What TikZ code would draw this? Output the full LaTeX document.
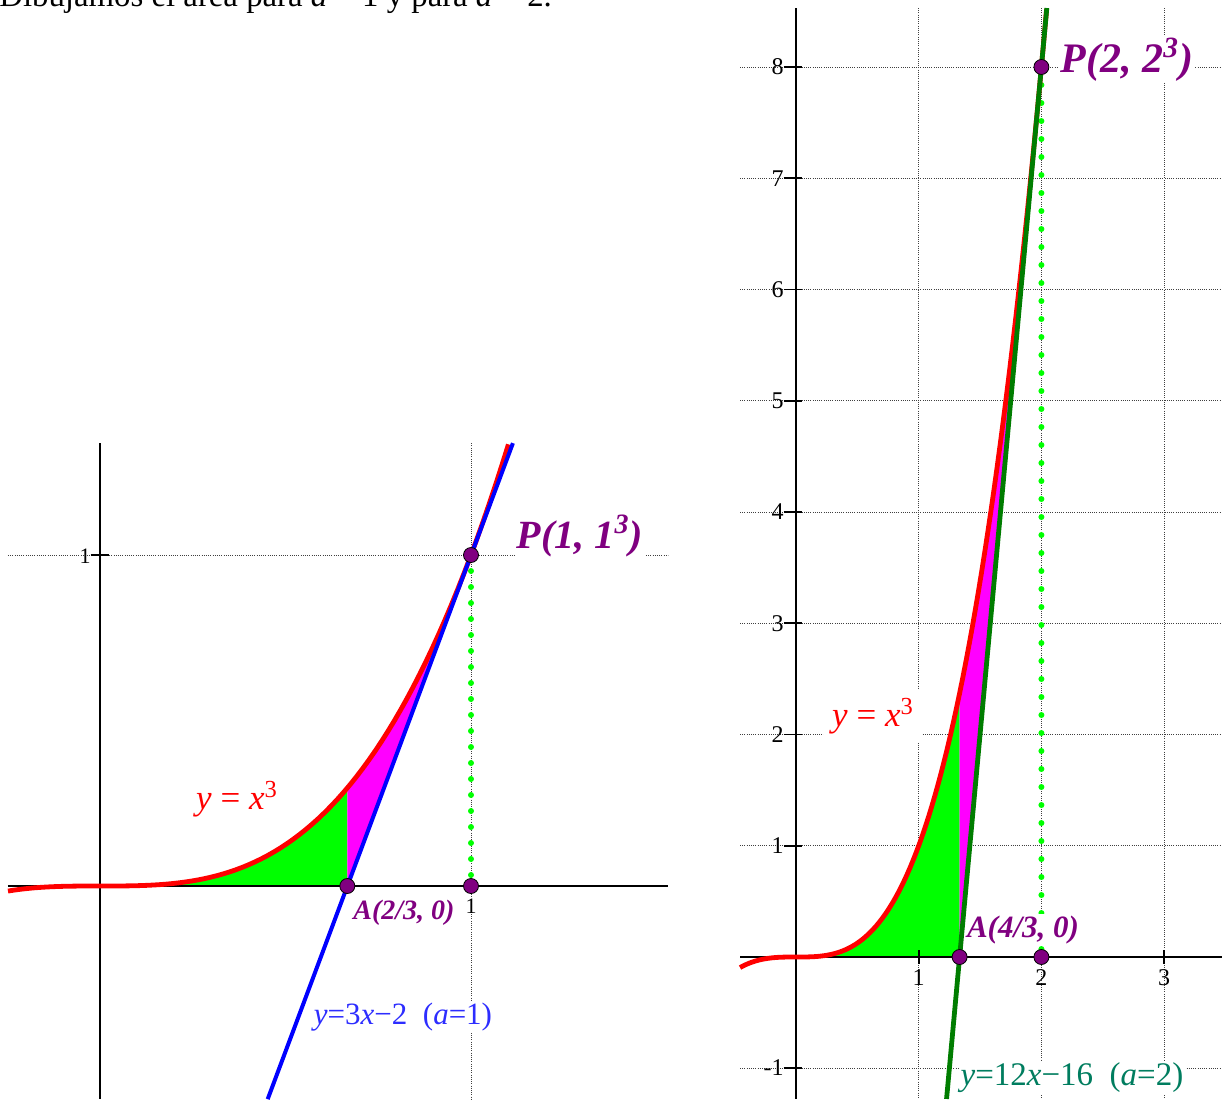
\documentclass[tikz,border=0pt]{standalone}
\usepackage{fontspec}
\setmainfont{Liberation Serif}
\usetikzlibrary{calc}

\definecolor{ptpurple}{RGB}{128,0,128}
\definecolor{areagreen}{RGB}{0,255,0}
\definecolor{areapink}{RGB}{255,0,255}
\definecolor{tangentgreen}{RGB}{0,125,0}
\definecolor{eqteal}{RGB}{0,125,95}
\definecolor{eqblue}{RGB}{45,45,255}

\tikzset{
  grid line/.style={black!75, line width=0.5pt, dash pattern=on 0.5pt off 0.6pt},
  axis line/.style={black, line width=1.2pt},
  tick/.style={black, line width=0.9pt},
  curve/.style={red, line width=2.4pt, line join=round},
  dots/.style={areagreen, line width=3pt, line cap=round, dash pattern=on 0pt off #1},
  pt/.style={circle, fill=ptpurple, draw=black, line width=0.4pt, inner sep=0pt, minimum size=7.5pt},
  ptlabel/.style={text=ptpurple, fill=white, inner sep=0.8pt, font=\fontsize{#1}{#1}\selectfont\bfseries\itshape},
  eqlabel/.style={fill=white, inner sep=1pt, font=\fontsize{#1}{#1}\selectfont},
  ticklabel/.style={inner sep=0pt, font=\fontsize{#1}{#1}\selectfont}
}

\begin{document}
\begin{tikzpicture}[x=0.5pt, y=-0.5pt]
  \useasboundingbox (0,0) rectangle (1222,1099);

  % line of text cut by the top edge
  \begin{scope}
    \clip (0,0) rectangle (1222,40);
    \node[anchor=base west, inner sep=0pt, font=\fontsize{16.4}{16.4}\selectfont] (intro) at (-1,6)
      {Dibujamos el área para \textit{a} = 1 y para \textit{a} = 2.};
  \end{scope}

  % a = 1
  \begin{scope}[shift={(100,886)}, x=185.5pt, y=165.5pt]
    \draw[grid line] (-0.248,1) -- (1.531,1);
    \draw[grid line] (1,1.338) -- (1,-0.644);
    \coordinate (P1) at (1,1);
    \coordinate (Q1) at (1,0);
    \coordinate (A1) at (2/3,0);
    \draw[dots=8pt] (P1) -- (Q1);
  \end{scope}

  % a = 2
  \begin{scope}[shift={(796,957)}, x=61.35pt, y=55.625pt]
    \foreach \k in {-1,...,8}
      \draw[grid line] (-0.456,\k) -- (3.47,\k);
    \foreach \k in {1,2,3}
      \draw[grid line] (\k,8.53) -- (\k,-1.276);
    \coordinate (P2) at (2,8);
    \coordinate (Q2) at (2,0);
    \coordinate (A2) at (4/3,0);
    \draw[dots=9pt] (P2) -- (Q2);
  \end{scope}

  % labels
  \node[ptlabel=20] (lblP1) at (580,536) {P(1, 1\textsuperscript{3})};
  \node[ptlabel=14] (lblA1) at (404,913) {A(2/3, 0)};
  \node[eqlabel=17.5, text=red] (lblc1) at (237,799) {\textit{y} = \textit{x}\textsuperscript{3}};
  \node[eqlabel=15.5, text=eqblue] (lblt1) at (403,1017) {\textit{y}=3\textit{x}−2\enspace(\textit{a}=1)};
  \node[ptlabel=21] (lblP2) at (1127,60) {P(2, 2\textsuperscript{3})};
  \node[ptlabel=15.5] (lblA2) at (1023,930) {A(4/3, 0)};
  \node[eqlabel=17.5, text=red, inner sep=4pt] (lblc2) at (873,716) {\textit{y} = \textit{x}\textsuperscript{3}};
  \node[eqlabel=16.5, text=eqteal] (lblt2) at (1072,1078) {\textit{y}=12\textit{x}−16\enspace(\textit{a}=2)};

  % tick labels
  \node[ticklabel=11] (ly1) at (85,556) {1};
  \node[ticklabel=11] (lx1) at (471,906) {1};
  \foreach \k in {1,...,8}
    \node[ticklabel=12, anchor=east] (ry\k) at (784,{957-111.25*\k}) {\k};
  \node[ticklabel=12, anchor=east] (rym) at (784,1068) {-1};
  \foreach \k in {1,2,3}
    \node[ticklabel=12] (rx\k) at ({796+122.7*\k},978) {\k};

  \begin{scope}[shift={(100,886)}, x=185.5pt, y=165.5pt]
    \fill[areagreen] (0,0) -- plot[domain=0:2/3, samples=40] (\x,{\x^3}) -- (A1) -- cycle;
    \fill[areapink] plot[domain=2/3:1, samples=40] (\x,{\x^3}) -- (A1) -- cycle;
    \draw[axis line] (-0.248,0) -- (1.531,0);
    \draw[axis line] (0,1.338) -- (0,-0.644);
    \draw[tick] (-0.025,1) -- (0.025,1);
    \draw[curve] plot[domain=-0.248:1.102, samples=80] (\x,{\x^3});
    \draw[blue, line width=2pt] (0.452,-0.644) -- (1.113,1.338);
    \node[pt] (dotA1) at (A1) {};
    \node[pt] (dotQ1) at (Q1) {};
    \node[pt] (dotP1) at (P1) {};
  \end{scope}

  \begin{scope}[shift={(796,957)}, x=61.35pt, y=55.625pt]
    \fill[areagreen] (0,0) -- plot[domain=0:4/3, samples=40] (\x,{\x^3}) -- (A2) -- cycle;
    \fill[areapink] plot[domain=4/3:2, samples=40] (\x,{\x^3}) -- (A2) -- cycle;
    \draw[axis line] (-0.456,0) -- (3.47,0);
    \draw[axis line] (0,8.53) -- (0,-1.276);
    \foreach \k in {-1,1,2,...,8}
      \draw[tick] (-0.1,\k) -- (0.05,\k);
    \foreach \k in {1,2,3}
      \draw[tick] (\k,-0.06) -- (\k,0.06);
    \draw[curve] plot[domain=-0.456:2.043, samples=100] (\x,{\x^3});
    \draw[tangentgreen, line width=2.4pt] (1.227,-1.276) -- (2.044,8.53);
    \node[pt] (dotA2) at (A2) {};
    \node[pt] (dotQ2) at (Q2) {};
    \node[pt] (dotP2) at (P2) {};
  \end{scope}
\end{tikzpicture}
\end{document}
